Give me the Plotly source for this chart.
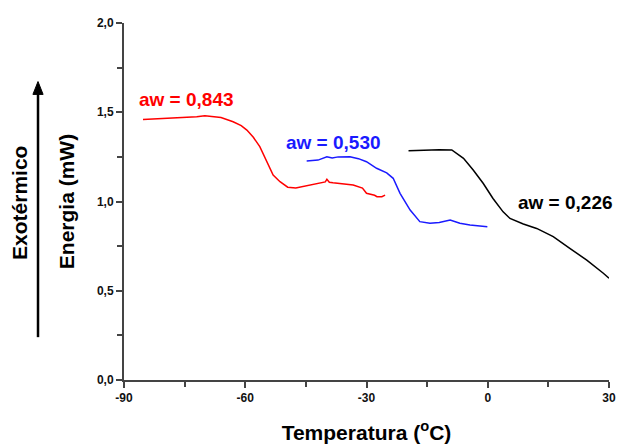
import plotly.graph_objects as go

# ---- data ----
t_843 = [-85.3, -80, -78, -75, -72, -70, -68.5, -66, -63, -61, -59.6, -58, -56.4, -54.6,
         -53.1, -51.4, -49.5, -47.5, -45.5, -44, -42, -40.2, -39.8, -39.2, -38.3, -36, -33.3,
         -31, -30, -28, -27.4, -26.2, -25.4]
e_843 = [1.46, 1.465, 1.47, 1.47, 1.475, 1.48, 1.475, 1.47, 1.447, 1.425, 1.40, 1.36, 1.307,
         1.215, 1.148, 1.111, 1.08, 1.076, 1.085, 1.092, 1.10, 1.11, 1.124, 1.108, 1.105,
         1.10, 1.092, 1.075, 1.046, 1.035, 1.027, 1.027, 1.036]

t_530 = [-44.8, -42, -39.8, -38.5, -37, -34.1, -32, -30, -27.5, -25, -23.4, -21.7, -19.2,
         -16.8, -14.3, -12, -9.3, -6.9, -4.4, -0.1]
e_530 = [1.227, 1.232, 1.251, 1.244, 1.25, 1.251, 1.24, 1.223, 1.186, 1.16, 1.13, 1.046,
         0.952, 0.887, 0.878, 0.882, 0.896, 0.878, 0.868, 0.859]

t_226 = [-19.6, -15, -12, -8.9, -6.0, -3.6, -1.1, 1.3, 3.8, 5.5, 8.8, 12.1, 16.2, 20.3,
         24.5, 28.6, 30]
e_226 = [1.284, 1.288, 1.29, 1.289, 1.242, 1.176, 1.101, 1.017, 0.942, 0.905, 0.874, 0.849,
         0.803, 0.737, 0.672, 0.598, 0.57]

series = [
    ("aw = 0,843", t_843, e_843, "#ff0000"),
    ("aw = 0,530", t_530, e_530, "#1a1aff"),
    ("aw = 0,226", t_226, e_226, "#000000"),
]

label_pos = {"aw = 0,843": (-86.8, 1.569), "aw = 0,530": (-50.4, 1.328), "aw = 0,226": (7.0, 0.997)}

x_tickvals = [-90, -60, -30, 0, 30]
x_ticktext = ["-90", "-60", "-30", "0", "30"]
y_tickvals = [0.0, 0.5, 1.0, 1.5, 2.0]
y_ticktext = ["0,0", "0,5", "1,0", "1,5", "2,0"]

FONT = "Liberation Sans, Arial, sans-serif"

fig = go.Figure()
for name, t, e, col in series:
    fig.add_trace(go.Scatter(x=t, y=e, mode="lines", name=name,
                             line=dict(color=col, width=1.5), showlegend=False))
    lx, ly = label_pos[name]
    fig.add_annotation(x=lx, y=ly, text="<b>%s</b>" % name, showarrow=False,
                       xanchor="left", yanchor="middle",
                       font=dict(family=FONT, size=19, color=col))

fig.update_xaxes(range=[-90, 30], tickvals=x_tickvals, ticktext=x_ticktext,
                 showline=True, linecolor="#444", linewidth=2, ticks="outside",
                 ticklen=6, tickwidth=2, tickcolor="#444", showgrid=False, zeroline=False,
                 automargin=False,
                 tickfont=dict(family=FONT, size=12, color="#111", weight="bold"),
                 minor=dict(tickvals=[-75, -45, -15, 15], ticks="outside", ticklen=5,
                            tickwidth=2, tickcolor="#444", showgrid=False),
                 title=dict(text="<b>Temperatura (<sup>o</sup>C)</b>", standoff=21,
                            font=dict(family=FONT, size=21, color="#000")))
fig.update_yaxes(range=[0, 2], tickvals=y_tickvals, ticktext=y_ticktext,
                 showline=True, linecolor="#444", linewidth=2, ticks="outside",
                 ticklen=6, tickwidth=2, tickcolor="#444", showgrid=False, zeroline=False,
                 automargin=False,
                 tickfont=dict(family=FONT, size=12, color="#111", weight="bold"),
                 minor=dict(tickvals=[0.25, 0.75, 1.25, 1.75], ticks="outside", ticklen=5,
                            tickwidth=2, tickcolor="#444", showgrid=False),
                 title=dict(text="<b>Energia (mW)</b>", standoff=17,
                            font=dict(family=FONT, size=21, color="#000")))

# Exothermic arrow (shaft + head) and label
ax_x = -0.1773
fig.add_shape(type="line", xref="paper", yref="paper", x0=ax_x, x1=ax_x, y0=0.120, y1=0.81,
              line=dict(color="#000", width=2.5))
fig.add_shape(type="path", xref="paper", yref="paper",
              path="M %f,0.836 L %f,0.800 L %f,0.800 Z" % (ax_x, ax_x - 0.0105, ax_x + 0.0105),
              fillcolor="#000", line=dict(color="#000", width=1))
fig.add_annotation(xref="paper", yref="paper", x=-0.2144, y=0.496, text="<b>Exotérmico</b>",
                   textangle=-90, showarrow=False, xanchor="center", yanchor="middle",
                   font=dict(family=FONT, size=21, color="#000"))

fig.update_layout(width=624, height=446, margin=dict(l=124, r=15, t=23, b=66),
                  plot_bgcolor="white", paper_bgcolor="white")

fig.write_html("out.html", config={"displayModeBar": False},
               post_script="document.body.style.margin='0';document.body.style.padding='0';"
                           "document.body.style.overflow='hidden';")
